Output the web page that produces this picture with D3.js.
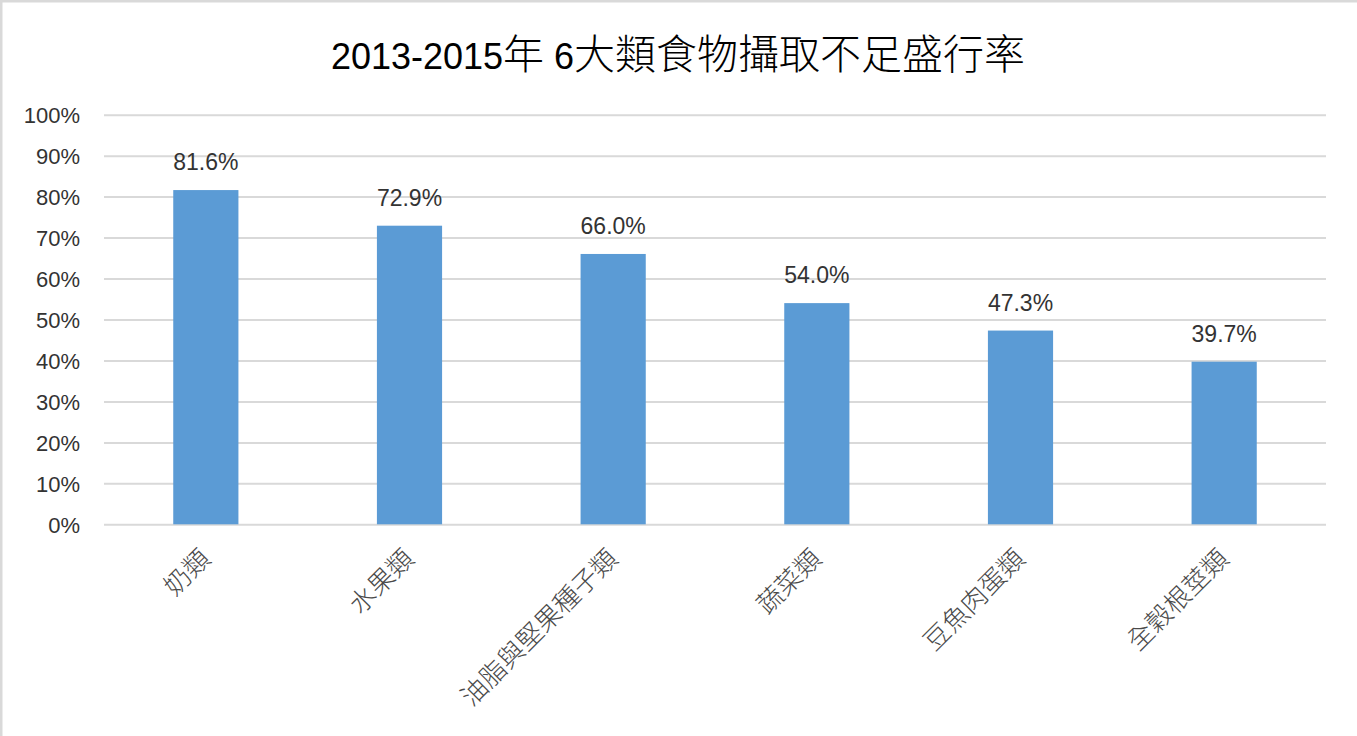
<!DOCTYPE html>
<html><head><meta charset="utf-8">
<script src="https://cdn.jsdelivr.net/npm/d3@7"></script>
<style>
html,body{margin:0;padding:0;background:#fff;}
svg{display:block;}
</style></head>
<body>
<svg id="chart" width="1357" height="736"></svg>
<script>
const titleLatin = "2013-2015";
const titleRest = ["年", " 6", "大類食物攝取不足盛行率"];
const categories = ["奶類","水果類","油脂與堅果種子類","蔬菜類","豆魚肉蛋類","全穀根莖類"];
const values = [81.6, 72.9, 66.0, 54.0, 47.3, 39.7];
const yTicks = [0,10,20,30,40,50,60,70,80,90,100];

const svg = d3.select("#chart");
const W = 1357, H = 736;
const margin = {left:104, right:31, top:114.7, bottom:211.7};

svg.append("rect").attr("x",1).attr("y",1).attr("width",W+4).attr("height",H+4)
  .attr("fill","#fff").attr("stroke","#d9d9d9").attr("stroke-width",3);

const x = d3.scaleBand().domain(categories).range([margin.left, W-margin.right]).paddingInner(0.68).paddingOuter(0.34);
const y = d3.scaleLinear().domain([0,100]).range([H-margin.bottom, margin.top]);

const font = "'Liberation Sans','DejaVu Sans',sans-serif";
const cjk = "'Noto Sans CJK TC','Noto Sans CJK SC',sans-serif";

// grid + y axis
const yAxis = d3.axisLeft(y).tickValues(yTicks).tickSize(-(W-margin.left-margin.right)).tickFormat(d=>d+"%");
const gy = svg.append("g").attr("transform",`translate(${margin.left},0)`).call(yAxis);
gy.select(".domain").remove();
gy.selectAll(".tick line").attr("stroke","#d9d9d9").attr("stroke-width",2);
gy.selectAll(".tick text").attr("fill","#333").style("font-family",font).style("font-size","22px").attr("x",-24).attr("dy","0.36em");

// bars
svg.append("g").selectAll("rect").data(values).join("rect")
  .attr("x",(d,i)=>x(categories[i]))
  .attr("width",x.bandwidth())
  .attr("y",d=>y(d))
  .attr("height",d=>y(0)-y(d))
  .attr("fill","#5b9bd5");

// value labels
svg.append("g").selectAll("text").data(values).join("text")
  .attr("x",(d,i)=>x(categories[i])+x.bandwidth()/2)
  .attr("y",d=>y(d)-20)
  .attr("text-anchor","middle")
  .attr("fill","#333")
  .style("font-family",font).style("font-size","23px")
  .text(d=>d.toFixed(1)+"%");

// x labels
const xAxis = d3.axisBottom(x).tickSize(0).tickPadding(0);
const gx = svg.append("g").attr("transform",`translate(0,${y(0)})`).call(xAxis);
gx.select(".domain").remove();
gx.selectAll(".tick text")
  .attr("text-anchor","end")
  .attr("transform","translate(-1,29) rotate(-45)")
  .attr("x",0).attr("y",0).attr("dy","0.38em")
  .attr("fill","#4a4a4a")
  .style("font-family",cjk).style("font-weight","300").style("font-size","26px");

// title
const t = svg.append("text").attr("x",678).attr("y",69).attr("text-anchor","middle").attr("fill","#000");
t.append("tspan").style("font-family",font).style("font-size","36px").text(titleLatin);
t.append("tspan").style("font-family",cjk).style("font-weight","300").style("font-size","41px").text(titleRest[0]);
t.append("tspan").style("font-family",font).style("font-size","36px").attr("xml:space","preserve").text(titleRest[1]);
t.append("tspan").style("font-family",cjk).style("font-weight","300").style("font-size","41px").text(titleRest[2]);
</script>
</body></html>
